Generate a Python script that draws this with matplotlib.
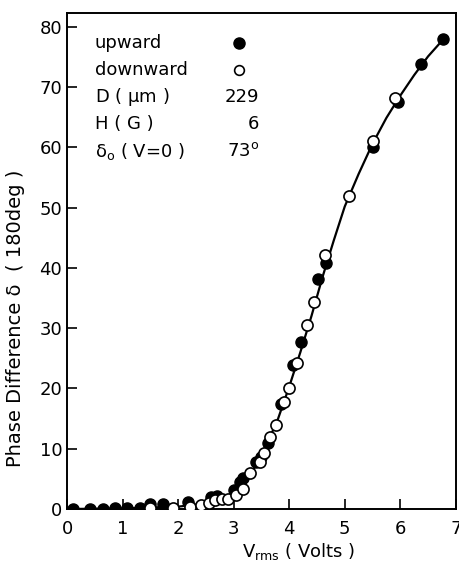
import matplotlib
matplotlib.use('Agg')
import matplotlib.pyplot as plt

plt.rcParams['font.family'] = ['DejaVu Sans']
plt.rcParams['mathtext.default'] = 'regular'

# upward sweep (filled circles)
up_x = [0.11, 0.41, 0.65, 0.86, 1.08, 1.31, 1.50, 1.73, 2.18, 2.60, 2.70,
        3.00, 3.12, 3.17, 3.40, 3.50, 3.62, 3.86, 4.07, 4.22, 4.52, 4.67,
        5.51, 5.95, 6.38, 6.77]
up_y = [0.0, 0.0, 0.0, 0.1, 0.1, 0.2, 0.8, 0.8, 1.2, 2.0, 2.2,
        3.1, 4.5, 5.1, 7.8, 8.7, 11.0, 17.4, 23.9, 27.7, 38.1, 40.8,
        60.0, 67.5, 73.8, 78.0]

# downward sweep (open circles)
down_x = [1.50, 1.91, 2.22, 2.42, 2.55, 2.67, 2.79, 2.90, 3.04, 3.17, 3.30,
          3.48, 3.54, 3.66, 3.77, 3.90, 4.00, 4.14, 4.32, 4.45, 4.65, 5.08,
          5.50, 5.91]
down_y = [0.2, 0.2, 0.3, 0.7, 1.0, 1.5, 1.7, 1.7, 2.3, 3.4, 5.9,
          7.8, 9.3, 11.9, 13.9, 17.7, 20.1, 24.2, 30.5, 34.3, 42.1, 51.9,
          61.0, 68.2]

# drawn curve through the data
curve_x = [0.0, 1.0, 2.0, 2.5, 2.8, 3.0, 3.2, 3.4, 3.6, 3.8, 4.0, 4.2, 4.4,
           4.6, 4.8, 5.0, 5.25, 5.5, 5.75, 6.0, 6.25, 6.5, 6.8]
curve_y = [0.0, 0.1, 0.4, 0.9, 1.6, 2.7, 4.5, 7.2, 10.8, 15.0, 20.3, 26.0,
           32.0, 38.5, 44.5, 50.2, 55.6, 60.6, 64.9, 68.6, 72.0, 75.1, 78.2]

# legend / parameter table
info_labels = ['upward', 'downward', 'D ( $\\mu$m )', 'H ( G )', '$\\delta_{o}$ ( V=0 )']
info_values = ['', '', '229', '6', '73$^{o}$']

fig = plt.figure(figsize=(4.6, 5.69), dpi=100)
ax = fig.add_axes([0.1457, 0.1054, 0.8453, 0.8718])

ax.plot(curve_x, curve_y, color='black', lw=1.6, zorder=1)
ax.plot(up_x, up_y, 'o', color='black', markersize=8, zorder=2)
ax.plot(down_x, down_y, 'o', markerfacecolor='white', markeredgecolor='black',
        markeredgewidth=1.2, markersize=8, zorder=3)

ax.set_xlim(0, 7)
ax.set_ylim(0, 82.3)
ax.set_xticks(range(0, 8))
ax.set_yticks(range(0, 81, 10))
ax.tick_params(direction='in', length=7, width=1.2, labelsize=13,
               top=False, right=False)
ax.tick_params(axis='x', pad=8)
for s in ax.spines.values():
    s.set_linewidth(1.4)

ax.set_ylabel('Phase Difference δ  ( 180deg )', fontsize=14)
ax.yaxis.set_label_coords(-0.108, 0.385)
ax.set_xlabel('V$_{rms}$ ( Volts )', fontsize=13)
ax.xaxis.set_label_coords(0.596, -0.064)

# parameter table in upper left
row_y = [77.3, 72.8, 68.3, 63.8, 59.4]
for lab, val, yy in zip(info_labels, info_values, row_y):
    ax.text(0.5, yy, lab, fontsize=13, va='center', ha='left')
    if val:
        ax.text(3.45, yy, val, fontsize=13, va='center', ha='right')
ax.plot([3.1], [row_y[0]], 'o', color='black', markersize=8)
ax.plot([3.1], [row_y[1]], 'o', markerfacecolor='white', markeredgecolor='black',
        markeredgewidth=1.2, markersize=7)

fig.savefig('out.png', dpi=100)
